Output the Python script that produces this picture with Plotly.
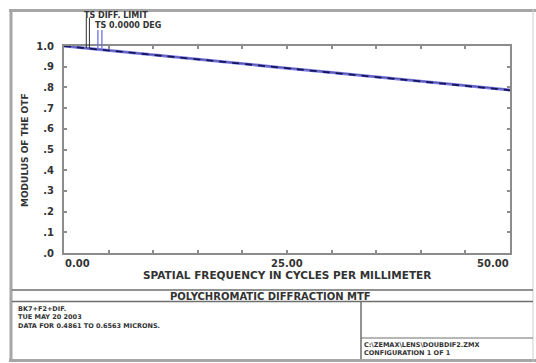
import numpy as np
import plotly.graph_objects as go

# Spatial frequency samples (cycles/mm) and MTF curves
freq = [0, 5, 10, 15, 20, 25, 30, 35, 40, 45, 50]
mtf_diff = [1.000, 0.979, 0.958, 0.936, 0.915, 0.894, 0.873, 0.852, 0.831, 0.810, 0.789]
mtf_tan = [1.000, 0.978, 0.957, 0.935, 0.914, 0.893, 0.872, 0.851, 0.830, 0.808, 0.787]
mtf_sag = [1.000, 0.978, 0.956, 0.935, 0.913, 0.892, 0.871, 0.850, 0.829, 0.808, 0.786]

ytick_vals = [0.0, 0.1, 0.2, 0.3, 0.4, 0.5, 0.6, 0.7, 0.8, 0.9, 1.0]
ytick_text = [".0", ".1", ".2", ".3", ".4", ".5", ".6", ".7", ".8", ".9", "1.0"]
xlabel_vals = [0, 25, 50]
xlabel_text = ["0.00", "25.00", "50.00"]

# Legend key: frequency where each T/S marker drops to the curve
key_diff = [2.5, 2.85]
key_field = [3.8, 4.25]

title_text = "POLYCHROMATIC DIFFRACTION MTF"
info_left = ["BK7+F2+DIF.", "TUE MAY 20 2003", "DATA FOR 0.4861 TO 0.6563 MICRONS."]
info_right = ["C:\\ZEMAX\\LENS\\DOUBDIF2.ZMX", "CONFIGURATION 1 OF 1"]

W, H = 536, 363
L, R, T, B = 64, 510, 46, 253
FONT = "DejaVu Sans"
TXT = "#333333"
FRAME = "#a6a6a6"
RULE = "#6e6e6e"


def PX(px):
    return (px - L) / (R - L)


def PY(py):
    return (B - py) / (B - T)


fig = go.Figure()
fig.add_trace(go.Scatter(x=freq, y=mtf_tan, mode="lines",
                         line=dict(color="#7d7de2", width=3), hoverinfo="skip"))
fig.add_trace(go.Scatter(x=freq, y=mtf_diff, mode="lines",
                         line=dict(color="#4a4a9a", width=0.8), hoverinfo="skip"))
fig.add_trace(go.Scatter(x=freq, y=mtf_sag, mode="lines",
                         line=dict(color="#16165e", width=1.8, dash="7px,6px"), hoverinfo="skip"))

shapes = []
# legend key drop lines
for xv in key_diff:
    shapes.append(dict(type="line", xref="x", yref="paper", x0=xv, x1=xv,
                       y0=PY(17.5), y1=float(np.interp(xv, freq, mtf_diff)),
                       line=dict(color="#303030", width=1)))
for xv in key_field:
    shapes.append(dict(type="line", xref="x", yref="paper", x0=xv, x1=xv,
                       y0=PY(30), y1=float(np.interp(xv, freq, mtf_tan)),
                       line=dict(color="#7070e0", width=1.3)))


def pline(x0, y0, x1, y1, color, width):
    shapes.append(dict(type="line", xref="paper", yref="paper",
                       x0=PX(x0), y0=PY(y0), x1=PX(x1), y1=PY(y1),
                       line=dict(color=color, width=width)))


# outer frame
pline(11, 9, 11, 362, FRAME, 3)
pline(9, 10.5, 536, 10.5, FRAME, 3)
pline(9, 360.5, 536, 360.5, FRAME, 3)
pline(533, 9, 533, 362, "#cfcfcf", 1)
# title block
pline(12, 290, 533, 290, RULE, 1.5)
pline(12, 301.5, 533, 301.5, RULE, 1.5)
pline(361, 301.5, 361, 359, RULE, 1.5)
pline(361, 338, 533, 338, RULE, 1)

ann = []


def text(s, x, y, size, xanchor="left", xref="paper", angle=0, yanchor="middle"):
    ann.append(dict(text=s, x=x, y=PY(y), xref=xref, yref="paper",
                    xanchor=xanchor, yanchor=yanchor, showarrow=False,
                    textangle=angle, borderpad=0, align="left",
                    font=dict(family=FONT, size=size, color=TXT, weight="bold")))


text("TS DIFF. LIMIT", PX(83), 15.5, 8)
text("TS 0.0000 DEG", PX(94), 25, 8)
for v, s, a in zip(xlabel_vals, xlabel_text, ["left", "center", "right"]):
    text(s, v, 263, 10, xanchor=a, xref="x")
text("SPATIAL FREQUENCY IN CYCLES PER MILLIMETER", 25, 274.5, 10.5, xanchor="center", xref="x")
text("MODULUS OF THE OTF", PX(25), 150, 9, xanchor="center", angle=-90)
text(title_text, PX(270), 296, 10, xanchor="center")
text("<br>".join(info_left), PX(17), 303.5, 6.5, yanchor="top")
text("<br>".join(info_right), PX(363), 339.5, 6.5, yanchor="top")

axis_common = dict(showgrid=False, zeroline=False, showline=True, linecolor="#8c8c8c",
                   linewidth=2, mirror="ticks", ticks="inside", tickcolor="#8c8c8c",
                   tickwidth=1.5, ticklen=3)

fig.update_layout(
    width=W, height=H,
    margin=dict(l=L, r=W - R, t=T, b=H - B, pad=0),
    paper_bgcolor="white", plot_bgcolor="white",
    showlegend=False,
    xaxis=dict(range=[0, 50], tickvals=freq, showticklabels=False, **axis_common),
    yaxis=dict(range=[0, 1], tickvals=ytick_vals, ticktext=ytick_text,
               tickfont=dict(family=FONT, size=10, color=TXT, weight="bold"),
               ticklabelstandoff=6, **axis_common),
    shapes=shapes, annotations=ann,
)

fig.write_html("out.html")
